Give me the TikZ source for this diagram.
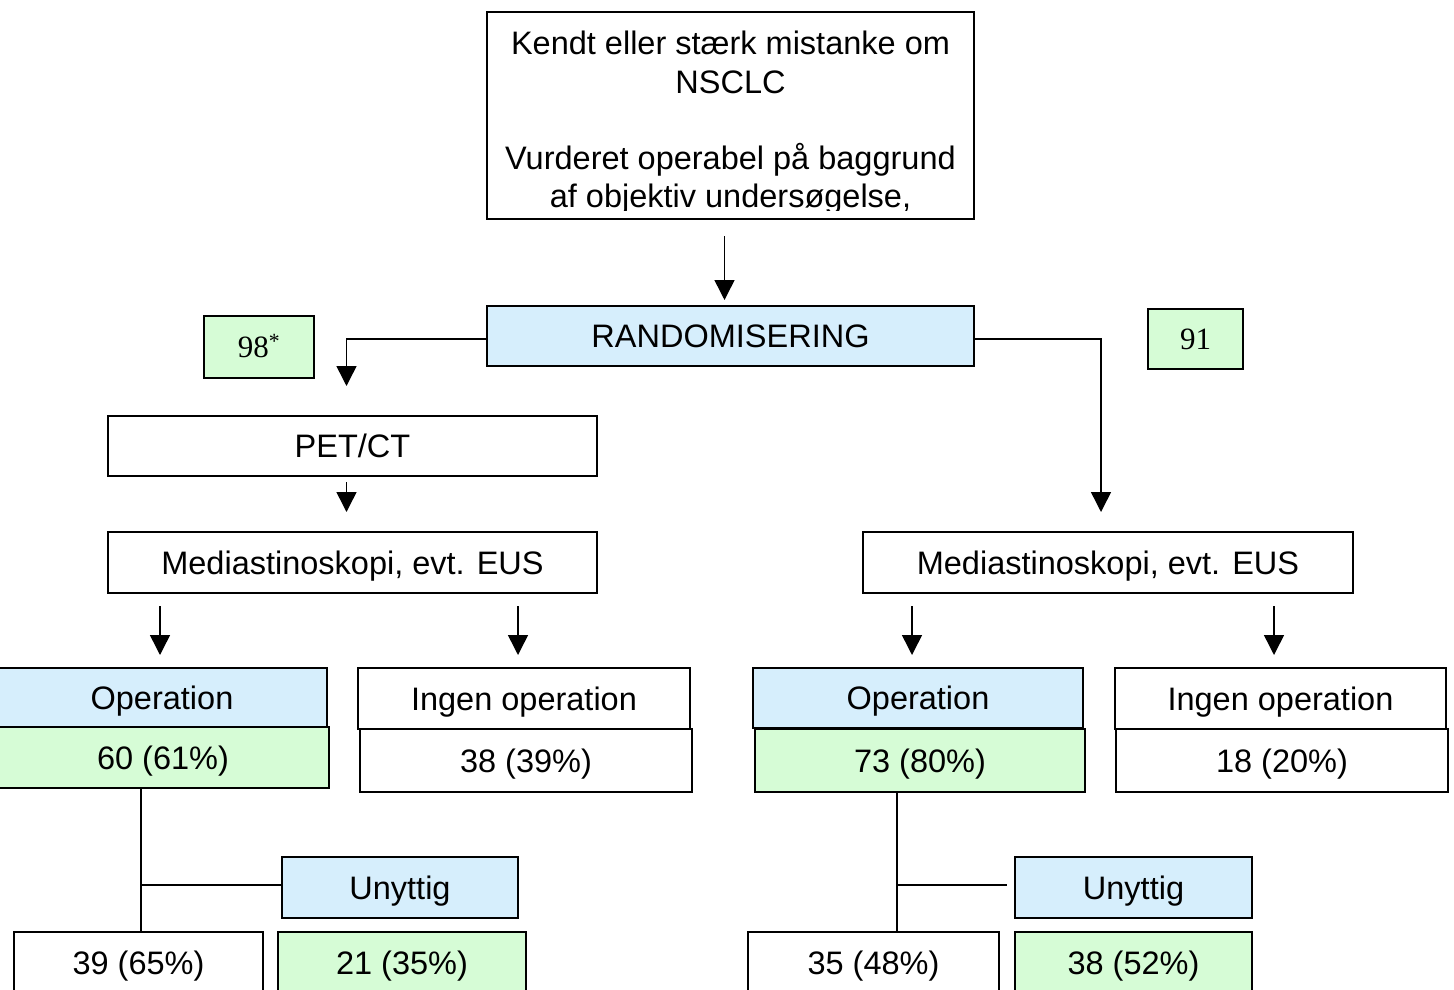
\documentclass[tikz,border=0pt]{standalone}
\usepackage{fontspec}
\setmainfont{Liberation Sans}
\newfontfamily\tms{Liberation Serif}
\usetikzlibrary{arrows.meta}
\definecolor{boxblue}{RGB}{214,238,252}
\definecolor{boxgreen}{RGB}{214,252,214}
\tikzset{
  box/.style={draw=black, line width=2pt, inner sep=0pt, outer sep=0pt,
    font=\fontsize{32.5}{38}\selectfont, text height=23.3pt, text depth=0pt},
  bluebox/.style={box, fill=boxblue},
  greenbox/.style={box, fill=boxgreen},
  numbox/.style={box, fill=boxgreen, font=\tms\fontsize{31}{36}\selectfont, text height=21pt},
  conn/.style={draw=black, line width=1.5pt},
  arr/.style={conn, -{Triangle[width=20pt,length=20pt]}},
  linetext/.style={inner sep=0pt, anchor=base, font=\fontsize{32.5}{38}\selectfont}
}
\begin{document}
\begin{tikzpicture}[x=1pt,y=-1pt]
\useasboundingbox (0,0) rectangle (1454,990);
\fill[white] (0,0) rectangle (1454,990);

% top box
\node[box, minimum width=487pt, minimum height=207pt] (top) at (730.5,115.5) {};
\begin{scope}
  \clip (488,13) rectangle (973,210);
  \node[linetext] (t1) at (730.5,55) {Kendt eller stærk mistanke om};
  \node[linetext] (t2) at (730.5,93) {NSCLC};
  \node[linetext] (t3) at (730.5,169) {Vurderet operabel på baggrund};
  \node[linetext] (t4) at (730.5,207) {af objektiv undersøgelse,};
\end{scope}

\node[bluebox, minimum width=487pt, minimum height=60pt] (rand) at (730.5,336) {RANDOMISERING};
\node[numbox, minimum width=110pt, minimum height=62pt] (n98) at (259,347) {98\textsuperscript{*}};
\node[numbox, minimum width=95pt, minimum height=60pt] (n91) at (1195.5,339) {91};

\node[box, minimum width=489pt, minimum height=60pt] (pet) at (352.5,446) {PET/CT};
\node[box, minimum width=489pt, minimum height=61pt] (medL) at (352.5,562.5) {Mediastinoskopi, evt. EUS};
\node[box, minimum width=490pt, minimum height=61pt] (medR) at (1108,562.5) {Mediastinoskopi, evt. EUS};

\node[bluebox, minimum width=330pt, minimum height=59pt] (opL) at (162,697.5) {Operation};
\node[greenbox, minimum width=332pt, minimum height=61pt] (numL) at (163,757.5) {60 (61\%)};
\node[box, minimum width=332pt, minimum height=61pt] (ingL) at (524,698.5) {Ingen operation};
\node[box, minimum width=332pt, minimum height=63pt] (n38a) at (526,760.5) {38 (39\%)};

\node[bluebox, minimum width=330pt, minimum height=60pt] (opR) at (918,698) {Operation};
\node[greenbox, minimum width=330pt, minimum height=63pt] (numR) at (920,760.5) {73 (80\%)};
\node[box, minimum width=331pt, minimum height=61pt] (ingR) at (1280.5,698.5) {Ingen operation};
\node[box, minimum width=332pt, minimum height=63pt] (n18) at (1282,760.5) {18 (20\%)};

\node[bluebox, minimum width=236pt, minimum height=61pt] (unyL) at (400,887.5) {Unyttig};
\node[box, minimum width=249pt, minimum height=62pt] (b39) at (138.5,963) {39 (65\%)};
\node[greenbox, minimum width=248pt, minimum height=62pt] (b21) at (402,963) {21 (35\%)};

\node[bluebox, minimum width=237pt, minimum height=61pt] (unyR) at (1133.5,887.5) {Unyttig};
\node[box, minimum width=251pt, minimum height=62pt] (b35) at (873.5,963) {35 (48\%)};
\node[greenbox, minimum width=237pt, minimum height=62pt] (b52) at (1133.5,963) {38 (52\%)};

% connectors
\draw[arr, shorten <=17pt, shorten >=6pt] ([xshift=-6pt]top.south) -- ([xshift=-6pt]rand.north);
\draw[arr, shorten >=30pt] ([yshift=-3pt]rand.west) -| ([xshift=-6pt]pet.north);
\draw[arr, shorten >=20pt] ([yshift=-3pt]rand.east) -| ([xshift=-7pt]medR.north);
\draw[arr, shorten <=6pt, shorten >=20pt] ([xshift=-6pt]pet.south) -- ([xshift=-6pt]medL.north);

\draw[arr, shorten <=13pt, shorten >=13pt] (medL.south -| 160,0) -- (opL.north -| 160,0);
\draw[arr, shorten <=13pt, shorten >=13pt] (medL.south -| 518,0) -- (ingL.north -| 518,0);
\draw[arr, shorten <=13pt, shorten >=13pt] (medR.south -| 912,0) -- (opR.north -| 912,0);
\draw[arr, shorten <=13pt, shorten >=13pt] (medR.south -| 1274,0) -- (ingR.north -| 1274,0);

\coordinate (jL) at (141,885);
\coordinate (jR) at (897,885);
\coordinate (eR) at (1007,885);
\draw[conn] (numL.south -| jL) -- (b39.north -| jL);
\draw[conn] (jL) -- (jL -| unyL.west);
\draw[conn] (numR.south -| jR) -- (b35.north -| jR);
\draw[conn] (jR) -- (eR);
\end{tikzpicture}
\end{document}
